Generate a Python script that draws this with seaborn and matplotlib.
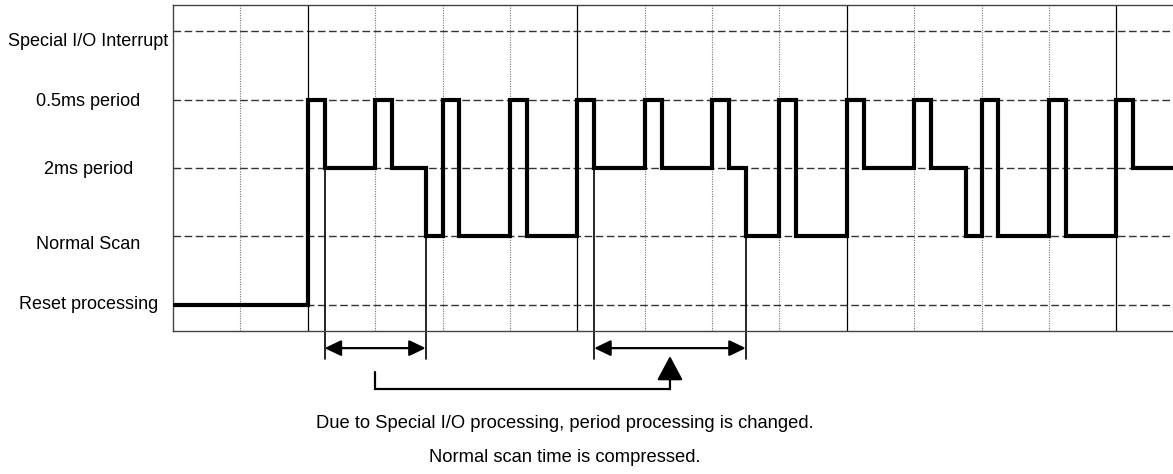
import matplotlib
matplotlib.use('Agg')
import matplotlib.pyplot as plt
import matplotlib.transforms as mtransforms
import numpy as np
import seaborn as sns
import pandas as pd

# Signal states (bottom to top)
state_labels = ['Reset processing', 'Normal Scan', '2ms period', '0.5ms period',
                'Special I/O Interrupt']

# Waveform: time of each change (grid units) and the state entered at that time
times = [0, 2, 2.25, 3, 3.25, 3.75, 4, 4.25, 5, 5.25, 6, 6.25, 7, 7.25, 8, 8.25,
         8.5, 9, 9.25, 10, 10.25, 11, 11.25, 11.77, 12, 12.25, 13, 13.25, 14,
         14.25, 14.85]
levels = [0, 3, 2, 3, 2, 1, 3, 1, 3, 1, 3, 2, 3, 2, 3, 2,
          1, 3, 1, 3, 2, 3, 2, 1, 3, 1, 3, 1, 3,
          2, 2]

# Time marks for the compared intervals
interval_a = [2.25, 3.75]
interval_b = [6.25, 8.5]

note_lines = ['Due to Special I/O processing, period processing is changed.',
              'Normal scan time is compressed.']

df = pd.DataFrame({'time': times, 'state': levels})

sns.set_style('white')
plt.rcParams['font.family'] = ['Liberation Sans Narrow', 'Liberation Sans', 'DejaVu Sans']
plt.rcParams['text.color'] = 'black'
plt.rcParams['ytick.labelcolor'] = 'black'

W, H = 1173, 474
fig = plt.figure(figsize=(W / 100, H / 100), dpi=100)
ax = fig.add_axes([173 / W, 1 - 331 / H, 1 - 173 / W, 326 / H])

x_max = 14.84
ax.set_xlim(0, x_max)
ax.set_ylim(-0.38, 4.38)

# grid: dashed horizontals per state, dotted/solid verticals per time unit
for lv in range(len(state_labels)):
    ax.axhline(lv, color='#333333', lw=1, ls=(0, (5.5, 2.5)), zorder=1)
for t in range(1, 15):
    if t % 4 == 2:
        ax.axvline(t, color='black', lw=0.9, zorder=1)
    else:
        ax.axvline(t, color='#777777', lw=0.8, ls=(0, (1, 1.2)), zorder=1)

sns.lineplot(data=df, x='time', y='state', drawstyle='steps-post', estimator=None,
             color='black', lw=3, ax=ax, zorder=3,
             solid_joinstyle='miter', solid_capstyle='butt')

ax.set_xlabel('')
ax.set_ylabel('')
ax.set_xticks([])
ax.set_yticks(range(len(state_labels)))
ax.set_yticklabels(state_labels, fontsize=13, color='black')
ax.tick_params(axis='y', length=0, pad=61)
nudge = {0: 2, 1: -6, 4: -8}
for i, lbl in enumerate(ax.get_yticklabels()):
    lbl.set_ha('center')
    if i in nudge:
        lbl.set_transform(lbl.get_transform() +
                          mtransforms.ScaledTranslation(0, nudge[i] / 100, fig.dpi_scale_trans))

for side in ['left', 'top', 'bottom']:
    ax.spines[side].set_color('#444444')
    ax.spines[side].set_linewidth(1)
ax.spines['right'].set_visible(False)

# thin marker lines dropping from the waveform below the axes
y_arrow = -0.63
y_drop = -0.79
for t in interval_a + interval_b:
    i = times.index(t)
    top = min(levels[i], levels[i - 1])
    ax.plot([t, t], [top, y_drop], color='black', lw=1.2, clip_on=False, zorder=2)

for a, b in [interval_a, interval_b]:
    ax.annotate('', xy=(b, y_arrow), xytext=(a, y_arrow), annotation_clip=False,
                arrowprops=dict(arrowstyle='<|-|>,head_length=0.5,head_width=0.24',
                                mutation_scale=20, lw=1.6, color='black',
                                shrinkA=0, shrinkB=0))

# bracket linking the two interval centres
ca = np.mean(interval_a)
cb = np.mean(interval_b)
y_brk = -1.23
ax.plot([ca, ca, cb], [-0.98, y_brk, y_brk], color='black', lw=1.6,
        clip_on=False, solid_joinstyle='miter')
ax.annotate('', xy=(cb, -0.745), xytext=(cb, y_brk), annotation_clip=False,
            arrowprops=dict(arrowstyle='-|>,head_length=0.75,head_width=0.4',
                            mutation_scale=20, lw=1.6, color='black',
                            shrinkA=0, shrinkB=0))

fig.text(565 / W, 1 - 423 / H, note_lines[0], ha='center', va='center', fontsize=13.2)
fig.text(565 / W, 1 - 457 / H, note_lines[1], ha='center', va='center', fontsize=13.2)

fig.savefig('out.png', dpi=100)
